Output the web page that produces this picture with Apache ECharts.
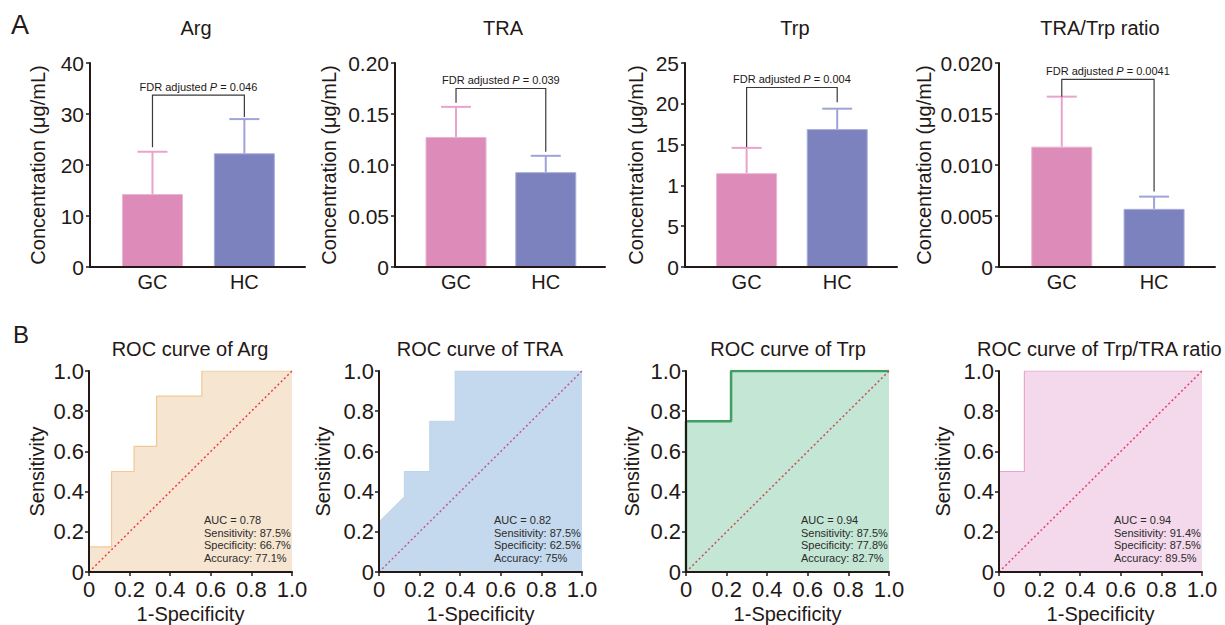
<!DOCTYPE html>
<html>
<head>
<meta charset="utf-8">
<title>Concentration and ROC</title>
<script src="https://cdn.jsdelivr.net/npm/echarts/dist/echarts.min.js"></script>
<style>
  html, body { margin: 0; padding: 0; background: #fff; }
  #main { width: 1225px; height: 625px; }
</style>
</head>
<body>
<div id="main"></div>
<script>
var font = 'Liberation Sans, Arial, Helvetica, sans-serif';
var ink = '#231815';

// ---- panel A data ----
var groups = ['GC', 'HC'];
var barTitles = ['Arg', 'TRA', 'Trp', 'TRA/Trp ratio'];
var argMean = [14.3, 22.3];
var argSd = [8.3, 6.7];
var traMean = [0.1275, 0.093];
var traSd = [0.0295, 0.016];
var trpMean = [11.5, 16.9];
var trpSd = [3.1, 2.5];
var ratioMean = [0.0118, 0.0057];
var ratioSd = [0.0049, 0.0012];
// bracket: left leg bottom, right leg bottom, bracket height
var argBracket = [23.5, 29.4, 33.7];
var traBracket = [0.161, 0.113, 0.175];
var trpBracket = [14.7, 20.2, 22.0];
var ratioBracket = [0.0167, 0.0074, 0.0184];
var pValues = ['0.046', '0.039', '0.004', '0.0041'];
var argTicks = ['0', '10', '20', '30', '40'];
var traTicks = ['0', '0.05', '0.10', '0.15', '0.20'];
var trpTicks = ['0', '5', '1', '15', '20', '25'];
var ratioTicks = ['0', '0.005', '0.010', '0.015', '0.020'];

// ---- panel B data ----
var rocTitles = ['ROC curve of Arg', 'ROC curve of TRA', 'ROC curve of Trp', 'ROC curve of Trp/TRA ratio'];
var rocTicks = ['0', '0.2', '0.4', '0.6', '0.8', '1.0'];
var argRoc = [[0, 0], [0, 0.125], [0.111, 0.125], [0.111, 0.5], [0.222, 0.5], [0.222, 0.625], [0.333, 0.625], [0.333, 0.875], [0.556, 0.875], [0.556, 1], [1, 1]];
var traRoc = [[0, 0], [0, 0.25], [0.125, 0.375], [0.125, 0.5], [0.25, 0.5], [0.25, 0.75], [0.375, 0.75], [0.375, 1], [1, 1]];
var trpRoc = [[0, 0], [0, 0.75], [0.222, 0.75], [0.222, 1], [1, 1]];
var ratioRoc = [[0, 0], [0, 0.5], [0.125, 0.5], [0.125, 1], [1, 1]];
var argStats = ['AUC = 0.78', 'Sensitivity: 87.5%', 'Specificity: 66.7%', 'Accuracy: 77.1%'];
var traStats = ['AUC = 0.82', 'Sensitivity: 87.5%', 'Specificity: 62.5%', 'Accuracy: 75%'];
var trpStats = ['AUC = 0.94', 'Sensitivity: 87.5%', 'Specificity: 77.8%', 'Accuracy: 82.7%'];
var ratioStats = ['AUC = 0.94', 'Sensitivity: 91.4%', 'Specificity: 87.5%', 'Accuracy: 89.5%'];

// styles / layout
var barColors = ['#dd8bb9', '#7c82bd'];
var barBorders = ['#eab3d3', '#a9aedb'];
var errColors = ['#eaa3cc', '#9fa4d8'];

var barPanels = [
  { mean: argMean, sd: argSd, bracket: argBracket, ticks: argTicks, max: 40, interval: 10, left: 90, width: 215, nameGap: 42, titleX: 196 },
  { mean: traMean, sd: traSd, bracket: traBracket, ticks: traTicks, max: 0.2, interval: 0.05, left: 395, width: 210, nameGap: 56, titleX: 503 },
  { mean: trpMean, sd: trpSd, bracket: trpBracket, ticks: trpTicks, max: 25, interval: 5, left: 685, width: 212, nameGap: 39, titleX: 795 },
  { mean: ratioMean, sd: ratioSd, bracket: ratioBracket, ticks: ratioTicks, max: 0.02, interval: 0.005, left: 999, width: 216, nameGap: 65, titleX: 1100 }
];
var rocPanels = [
  { points: argRoc, stats: argStats, left: 89, nameGap: 42, line: '#f0c994', lineWidth: 1.2, fill: '#f6e6d1', diag: '#e8413c', titleX: 190, titleAlign: 'center' },
  { points: traRoc, stats: traStats, left: 379, nameGap: 46, line: '#bcd4ec', lineWidth: 1, fill: '#c5d9ee', diag: '#c05a8c', titleX: 480, titleAlign: 'center' },
  { points: trpRoc, stats: trpStats, left: 686, nameGap: 44, line: '#3e9e64', lineWidth: 2.5, fill: '#c3e6d5', diag: '#c8504a', titleX: 788, titleAlign: 'center' },
  { points: ratioRoc, stats: ratioStats, left: 999, nameGap: 46, line: '#e9a6cf', lineWidth: 1.2, fill: '#f4d8eb', diag: '#e8405e', titleX: 977, titleAlign: 'left' }
];

var grid = [], xAxis = [], yAxis = [], series = [], graphic = [];

function axisLine() {
  return { show: true, onZero: false, lineStyle: { color: ink, width: 2 } };
}

function label(text, x, y, size, align, color) {
  return {
    type: 'text', z: 100,
    style: { text: text, x: x, y: y, textAlign: align, textVerticalAlign: 'middle', fontSize: size, fontFamily: font, fill: color || ink }
  };
}

barPanels.forEach(function (p, k) {
  grid.push({ left: p.left, top: 63, width: p.width, height: 204 });
  xAxis.push({
    type: 'value', gridIndex: k, min: -0.68, max: 1.66, z: 5,
    axisLine: axisLine(), axisTick: { show: false }, splitLine: { show: false },
    axisLabel: {
      customValues: [0, 1], margin: 5, color: ink, fontSize: 20, fontFamily: font,
      formatter: function (v) { return groups[Math.round(v)]; }
    }
  });
  yAxis.push({
    type: 'value', gridIndex: k, min: 0, max: p.max, interval: p.interval, z: 5,
    name: 'Concentration (μg/mL)', nameLocation: 'middle', nameGap: p.nameGap,
    nameTextStyle: { color: ink, fontSize: 20, fontFamily: font },
    axisLine: axisLine(), splitLine: { show: false },
    axisTick: { show: true, length: 4, lineStyle: { color: ink, width: 1.5 } },
    axisLabel: {
      margin: 6, color: ink, fontSize: 21, fontFamily: font,
      formatter: function (v) { return p.ticks[Math.round(v / p.interval)]; }
    }
  });
  series.push({
    type: 'bar', xAxisIndex: k, yAxisIndex: k, barWidth: 61, z: 2,
    data: groups.map(function (g, i) {
      return { value: [i, p.mean[i]], itemStyle: { color: barColors[i], borderColor: barBorders[i], borderWidth: 1 } };
    })
  });
  series.push({
    type: 'custom', xAxisIndex: k, yAxisIndex: k, z: 3,
    data: groups.map(function (g, i) { return [i, p.mean[i], p.mean[i] + p.sd[i]]; }),
    renderItem: function (params, api) {
      var i = api.value(0);
      var a = api.coord([i, api.value(1)]);
      var b = api.coord([i, api.value(2)]);
      var c = errColors[i];
      return {
        type: 'group', children: [
          { type: 'line', shape: { x1: a[0], y1: a[1], x2: b[0], y2: b[1] }, style: { stroke: c, lineWidth: 2 } },
          { type: 'line', shape: { x1: b[0] - 15, y1: b[1], x2: b[0] + 15, y2: b[1] }, style: { stroke: c, lineWidth: 2 } }
        ]
      };
    }
  });
  series.push({
    type: 'custom', xAxisIndex: k, yAxisIndex: k, z: 4,
    data: [[0, p.bracket[0], p.bracket[1], p.bracket[2]]],
    renderItem: function (params, api) {
      var l = api.coord([0, api.value(1)]);
      var r = api.coord([1, api.value(2)]);
      var t = api.coord([0, api.value(3)]);
      return {
        type: 'group', children: [
          { type: 'polyline', shape: { points: [[l[0], l[1]], [l[0], t[1]], [r[0], t[1]], [r[0], r[1]]] }, style: { stroke: '#3a3a3a', lineWidth: 1.2, fill: null } },
          { type: 'text', style: {
              x: (l[0] + r[0]) / 2, y: t[1] - 3, textAlign: 'center', textVerticalAlign: 'bottom',
              text: '{n|FDR adjusted }{i|P}{n| = ' + pValues[k] + '}',
              rich: {
                n: { fontSize: 11, fontFamily: font, fill: ink },
                i: { fontSize: 11, fontFamily: font, fontStyle: 'italic', fill: ink }
              }
          } }
        ]
      };
    }
  });
  graphic.push(label(barTitles[k], p.titleX, 28, 20, 'center'));
});

rocPanels.forEach(function (p, j) {
  var k = j + 4;
  grid.push({ left: p.left, top: 371, width: 203, height: 202 });
  xAxis.push({
    type: 'value', gridIndex: k, min: 0, max: 1, interval: 0.2, z: 5,
    name: '1-Specificity', nameLocation: 'middle', nameGap: 32,
    nameTextStyle: { color: ink, fontSize: 20, fontFamily: font },
    axisLine: axisLine(), splitLine: { show: false },
    axisTick: { show: true, length: 4, lineStyle: { color: ink, width: 1.5 } },
    axisLabel: {
      margin: 6, color: ink, fontSize: 22, fontFamily: font,
      formatter: function (v) { return rocTicks[Math.round(v / 0.2)]; }
    }
  });
  yAxis.push({
    type: 'value', gridIndex: k, min: 0, max: 1, interval: 0.2, z: 5,
    name: 'Sensitivity', nameLocation: 'middle', nameGap: p.nameGap,
    nameTextStyle: { color: ink, fontSize: 20, fontFamily: font },
    axisLine: axisLine(), splitLine: { show: false },
    axisTick: { show: true, length: 4, lineStyle: { color: ink, width: 1.5 } },
    axisLabel: {
      margin: 5, color: ink, fontSize: 22, fontFamily: font,
      formatter: function (v) { return rocTicks[Math.round(v / 0.2)]; }
    }
  });
  series.push({
    type: 'line', xAxisIndex: k, yAxisIndex: k, z: 2,
    showSymbol: false, data: p.points,
    lineStyle: { color: p.line, width: p.lineWidth },
    areaStyle: { color: p.fill, opacity: 1 }
  });
  series.push({
    type: 'line', xAxisIndex: k, yAxisIndex: k, z: 3,
    showSymbol: false, data: [[0, 0], [1, 1]],
    lineStyle: { color: p.diag, width: 1.5, type: [2, 2.5] }
  });
  graphic.push(label(rocTitles[j], p.titleX, 349, 20, p.titleAlign));
  p.stats.forEach(function (s, n) {
    graphic.push(label(s, p.left + 115, 520 + n * 12.6, 11, 'left', '#2b2b2b'));
  });
});

graphic.push(label('A', 11, 25, 27, 'left'));
graphic.push(label('B', 13, 334, 24, 'left'));

var chart = echarts.init(document.getElementById('main'), null, { renderer: 'svg' });
chart.setOption({
  animation: false,
  backgroundColor: '#ffffff',
  grid: grid,
  xAxis: xAxis,
  yAxis: yAxis,
  series: series,
  graphic: graphic
});
</script>
</body>
</html>
